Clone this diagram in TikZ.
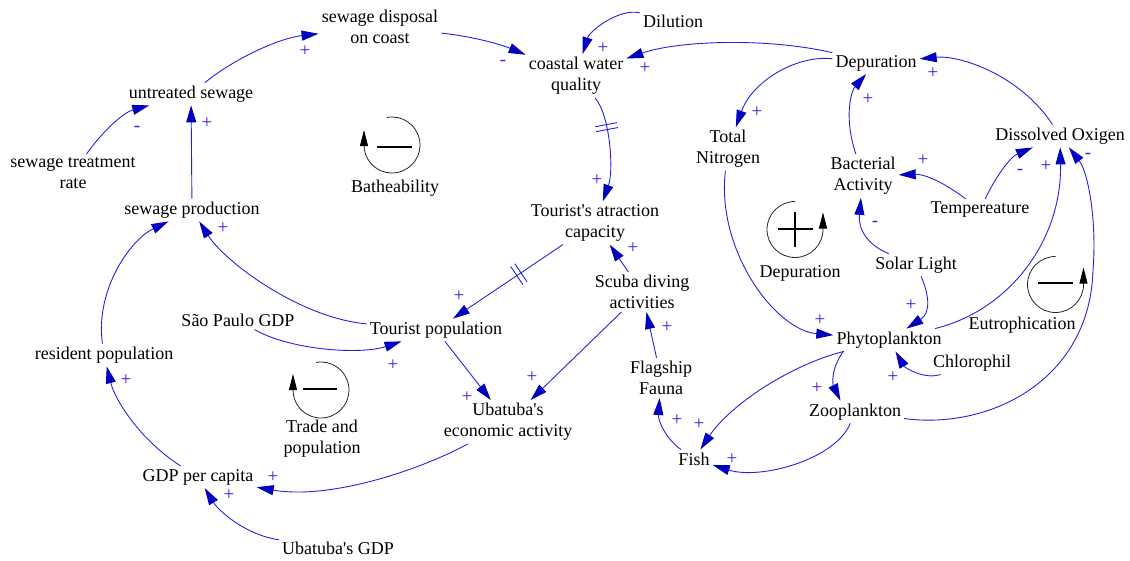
\documentclass[tikz,border=0pt]{standalone}
\usepackage{fontspec}
\setmainfont{Liberation Serif}
\usetikzlibrary{arrows.meta}
\definecolor{linkc}{RGB}{35,35,225}
\definecolor{headc}{RGB}{0,0,190}
\definecolor{signc}{RGB}{75,20,215}
\begin{document}
\begin{tikzpicture}[x=1pt,y=1pt,
  var/.style={font=\fontsize{18}{21}\selectfont, align=center, inner sep=3pt},
  sgn/.style={font=\fontsize{19}{19}\selectfont, text=signc, inner sep=0pt},
  lnk/.style={draw=linkc, line width=0.9pt, -{Triangle[length=17pt,width=10pt,color=headc]}},
  dly/.style={sloped, minimum width=5pt, minimum height=22pt, inner sep=0pt, outer sep=0pt},
  dlyline/.style={draw=linkc, line width=0.9pt},
  loopc/.style={draw=black!85, line width=0.8pt, -{Triangle[length=16pt,width=8pt,color=black]}},
  loopsign/.style={draw=black, line width=2.6pt}
]
\useasboundingbox (0,0) rectangle (1130,-560);

% variables
\node[var] (sdoc) at (380,-27) {sewage disposal\\on coast};
\node[var] (ua) at (191,-94) {untreated sewage};
\node[var] (str) at (73,-173) {sewage treatment\\rate};
\node[var] (sp) at (192,-210) {sewage production};
\node[var] (cwq) at (576,-76) {coastal water\\quality};
\node[var] (dil) at (673,-21) {Dilution};
\node[var] (dep) at (876,-63) {Depuration};
\node[var] (tn) at (728,-149) {Total\\Nitrogen};
\node[var] (ba) at (863,-176) {Bacterial\\Activity};
\node[var] (dox) at (1060,-136) {Dissolved Oxigen};
\node[var] (temp) at (980,-210) {Tempereature};
\node[var] (sol) at (916,-265) {Solar Light};
\node[var] (phy) at (889,-340) {Phytoplankton};
\node[var] (chl) at (972,-363) {Chlorophil};
\node[var] (zoo) at (855,-412) {Zooplankton};
\node[var] (fish) at (694,-459) {Fish};
\node[var] (flag) at (661,-378) {Flagship\\Fauna};
\node[var] (scuba) at (642,-292) {Scuba diving\\activities};
\node[var] (tac) at (595,-223) {Tourist\textquotesingle s atraction\\capacity};
\node[var] (tp) at (436,-330) {Tourist population};
\node[var] (spg) at (238,-320) {São Paulo GDP};
\node[var] (uea) at (508,-422) {Ubatuba\textquotesingle s\\economic activity};
\node[var] (rp) at (104,-355) {resident population};
\node[var] (gdp) at (198,-477) {GDP per capita};
\node[var] (ugdp) at (338,-548) {Ubatuba\textquotesingle s GDP};

% loop labels
\node[var] (lbath) at (395,-188) {Batheability};
\node[var] (ldep) at (800,-273) {Depuration};
\node[var] (leut) at (1022,-325) {Eutrophication};
\node[var] (ltrade) at (322,-439) {Trade and\\population};

% connectors
\draw[lnk] (ua) .. controls (235,-58) and (280,-38) .. (sdoc);
\draw[lnk] (str) .. controls (105,-128) and (125,-112) .. (ua);
\draw[lnk] (sp) -- (ua);
\draw[lnk] (sdoc) .. controls (470,-36) and (500,-44) .. (cwq);
\draw[lnk] (dil) .. controls (620,-8) and (590,-30) .. (cwq);
\draw[lnk] (dep) .. controls (770,-38) and (680,-40) .. (cwq);
\draw[lnk] (dep) .. controls (795,-55) and (752,-82) .. (tn);
\draw[lnk] (cwq) .. controls (610,-115) and (614,-170) .. (tac) node[dly,pos=0.35] (d1) {};
\draw[dlyline] (d1.north west) -- (d1.south west) (d1.north east) -- (d1.south east);
\draw[lnk] (tac) -- (tp) node[dly,pos=0.4] (d2) {};
\draw[dlyline] (d2.north west) -- (d2.south west) (d2.north east) -- (d2.south east);
\draw[lnk] (scuba) -- (tac);
\draw[lnk] (tp) .. controls (300,-318) and (225,-262) .. (sp);
\draw[lnk] (spg) .. controls (290,-350) and (360,-355) .. (tp);
\draw[lnk] (tp) -- (uea);
\draw[lnk] (scuba) -- (uea);
\draw[lnk] (flag) -- (scuba);
\draw[lnk] (fish) .. controls (665,-438) and (658,-420) .. (flag);
\draw[lnk] (phy) .. controls (790,-365) and (730,-405) .. (fish);
\draw[lnk] (zoo) .. controls (835,-460) and (760,-480) .. (fish);
\draw[lnk] (phy.194) .. controls (830,-370) and (833,-385) .. (zoo.142);
\draw[lnk] (chl) .. controls (925,-380) and (905,-368) .. (phy);
\draw[lnk] (sol) .. controls (928,-292) and (932,-312) .. (phy);
\draw[lnk] (sol) .. controls (868,-245) and (858,-230) .. (ba);
\draw[lnk] (temp) .. controls (945,-183) and (925,-174) .. (ba);
\draw[lnk] (temp) .. controls (995,-178) and (1010,-157) .. (dox);
\draw[lnk] (ba) .. controls (843,-115) and (852,-90) .. (dep);
\draw[lnk] (dox) .. controls (1020,-75) and (960,-55) .. (dep);
\draw[lnk] (phy) .. controls (1010,-310) and (1062,-240) .. (dox);
\draw[lnk] (zoo) .. controls (990,-430) and (1090,-380) .. (1093,-270) .. controls (1097,-220) and (1088,-172) .. (dox);
\draw[lnk] (tn) .. controls (716,-250) and (775,-330) .. (phy);
\draw[lnk] (uea) .. controls (420,-470) and (330,-500) .. (gdp);
\draw[lnk] (ugdp) .. controls (245,-535) and (218,-510) .. (gdp);
\draw[lnk] (gdp) .. controls (140,-440) and (115,-400) .. (rp);
\draw[lnk] (rp) .. controls (95,-290) and (130,-240) .. (sp);

% polarity signs
\node[sgn] (s1) at (305,-51) {+};
\node[sgn] (s2) at (137,-129) {-};
\node[sgn] (s3) at (207,-123) {+};
\node[sgn] (s4) at (223,-228) {+};
\node[sgn] (s5) at (503,-63) {-};
\node[sgn] (s6) at (603,-48) {+};
\node[sgn] (s7) at (645,-68) {+};
\node[sgn] (s8) at (597,-180) {+};
\node[sgn] (s9) at (633,-248) {+};
\node[sgn] (s10) at (757,-112) {+};
\node[sgn] (s11) at (868,-99) {+};
\node[sgn] (s12) at (933,-73) {+};
\node[sgn] (s13) at (923,-160) {+};
\node[sgn] (s14) at (875,-224) {-};
\node[sgn] (s15) at (1020,-172) {-};
\node[sgn] (s16) at (1046,-166) {+};
\node[sgn] (s17) at (1088,-156) {-};
\node[sgn] (s18) at (820,-320) {+};
\node[sgn] (s19) at (911,-305) {+};
\node[sgn] (s20) at (893,-377) {+};
\node[sgn] (s21) at (817,-388) {+};
\node[sgn] (s22) at (699,-424) {+};
\node[sgn] (s23) at (732,-459) {+};
\node[sgn] (s24) at (677,-420) {+};
\node[sgn] (s25) at (667,-327) {+};
\node[sgn] (s26) at (459,-296) {+};
\node[sgn] (s27) at (393,-365) {+};
\node[sgn] (s28) at (467,-397) {+};
\node[sgn] (s29) at (532,-377) {+};
\node[sgn] (s30) at (273,-477) {+};
\node[sgn] (s31) at (229,-495) {+};
\node[sgn] (s32) at (126,-380) {+};

% loop icons
\draw[loopc] (392,-145) ++(100:28) arc[start angle=100,end angle=-180,radius=28] -- ++(0,15);
\draw[loopsign] (377,-147) -- (412,-147);
\draw[loopc] (795,-229.5) ++(90:28) arc[start angle=90,end angle=360,radius=28] -- ++(0,17);
\draw[loopsign] (778,-229) -- (813,-229) (795,-212) -- (795,-247);
\draw[loopc] (1055.5,-284.5) ++(90:28) arc[start angle=90,end angle=360,radius=28] -- ++(0,17);
\draw[loopsign] (1038,-283) -- (1073,-283);
\draw[loopc] (321,-390) ++(100:28) arc[start angle=100,end angle=-180,radius=28] -- ++(0,16);
\draw[loopsign] (303,-389) -- (337,-389);
\end{tikzpicture}
\end{document}
